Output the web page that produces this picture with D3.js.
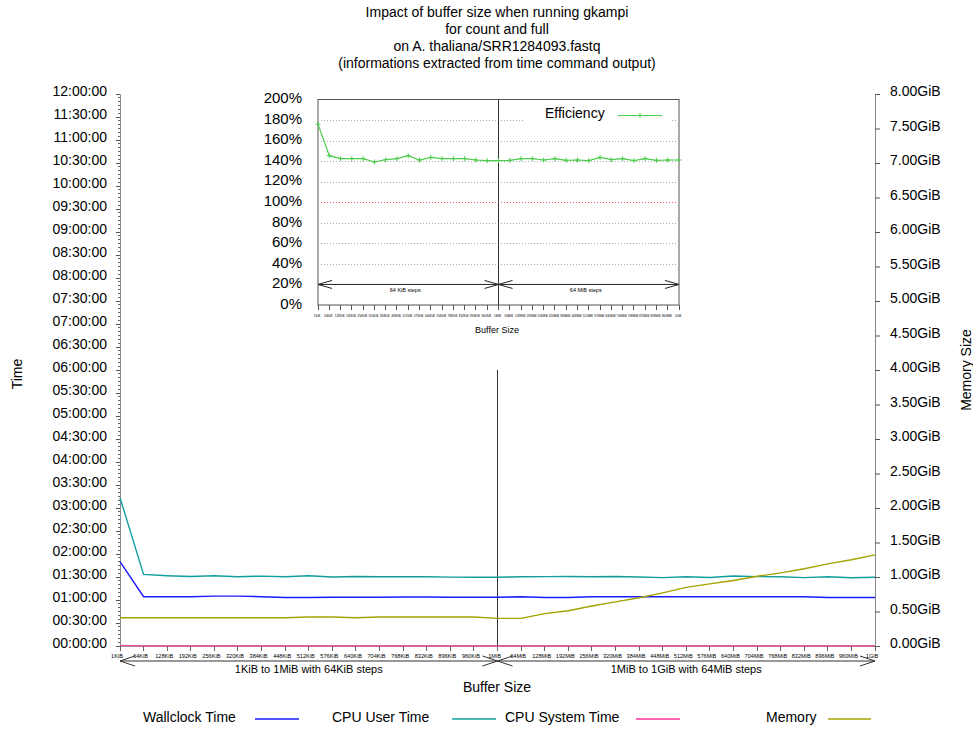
<!DOCTYPE html>
<html><head><meta charset="utf-8">
<script src="https://cdn.jsdelivr.net/npm/d3@7"></script>
<style>
body{margin:0;background:#fff}
svg{display:block}
text{font-family:"Liberation Sans",Arial,Helvetica,sans-serif;fill:#000}
</style>
</head><body>
<svg id="c" width="973" height="731"></svg>
<script>
// ---------------- DATA ----------------
const titleLines = [
  "Impact of buffer size when running gkampi",
  "for count and full",
  "on A. thaliana/SRR1284093.fastq",
  "(informations extracted from time command output)"
];
const bufferSizes = ["1KiB","64KiB","128KiB","192KiB","256KiB","320KiB","384KiB","448KiB","512KiB","576KiB","640KiB","704KiB","768KiB","832KiB","896KiB","960KiB",
  "1MiB","64MiB","128MiB","192MiB","256MiB","320MiB","384MiB","448MiB","512MiB","576MiB","640MiB","704MiB","768MiB","832MiB","896MiB","960MiB","1GiB"];
// seconds
const wallclockTime = [6600,3860,3860,3860,3900,3900,3860,3790,3800,3810,3820,3820,3830,3830,3820,3810,3810,
  3860,3790,3790,3860,3860,3860,3860,3860,3860,3860,3860,3860,3860,3790,3790,3790];
const cpuUserTime = [11600,5600,5500,5440,5500,5420,5470,5420,5500,5400,5440,5420,5420,5420,5390,5380,5380,
  5420,5430,5440,5420,5440,5400,5350,5420,5360,5480,5430,5420,5350,5420,5340,5380];
const cpuSystemTime = [50,5,5,5,5,5,5,5,5,5,5,5,5,5,5,5,5,
  5,5,5,5,5,5,5,5,5,5,5,5,5,5,5,5];
// GiB
const memory = [0.41,0.41,0.41,0.41,0.41,0.41,0.41,0.41,0.42,0.42,0.41,0.42,0.42,0.42,0.42,0.42,0.40,
  0.40,0.47,0.51,0.58,0.64,0.70,0.77,0.85,0.90,0.95,1.01,1.06,1.12,1.19,1.25,1.32];
// percent
const efficiency = [176,145.3,142.4,142.4,142.4,139.2,141.4,142.4,145.3,141.1,143.7,142.4,142.4,142.4,141.1,140.5,140.5,
  140.8,142.4,142.4,141.1,142.4,140.8,141.1,140.5,143.7,141.4,142.4,140.5,142.4,140.8,141.1,141.1];
const timeTickLabels = ["00:00:00","00:30:00","01:00:00","01:30:00","02:00:00","02:30:00","03:00:00","03:30:00","04:00:00","04:30:00","05:00:00","05:30:00","06:00:00","06:30:00","07:00:00","07:30:00","08:00:00","08:30:00","09:00:00","09:30:00","10:00:00","10:30:00","11:00:00","11:30:00","12:00:00"];
const memoryTickLabels = ["0.00GiB","0.50GiB","1.00GiB","1.50GiB","2.00GiB","2.50GiB","3.00GiB","3.50GiB","4.00GiB","4.50GiB","5.00GiB","5.50GiB","6.00GiB","6.50GiB","7.00GiB","7.50GiB","8.00GiB"];
const effTickLabels = ["0%","20%","40%","60%","80%","100%","120%","140%","160%","180%","200%"];
const rangeLabels = ["1KiB to 1MiB with 64KiB steps","1MiB to 1GiB with 64MiB steps"];
const insetRangeLabels = ["64 KiB steps","64 MiB steps"];
const seriesNames = ["Wallclock Time","CPU User Time","CPU System Time","Memory"];

// ---------------- DRAW ----------------
const svg = d3.select("#c");
const colors = {wall:"#1a1aff", user:"#129e9e", sys:"#ff3399", mem:"#a3a300", eff:"#4ccc4c"};

// title
svg.append("g").selectAll("text").data(titleLines).join("text")
  .attr("x",497).attr("y",(d,i)=>17+i*17).attr("text-anchor","middle")
  .style("font-size","14px").text(d=>d);

const x = d3.scalePoint().domain(bufferSizes).range([120,875]);
const yT = d3.scaleLinear().domain([0,43200]).range([646,94]);
const yM = d3.scaleLinear().domain([0,8]).range([646,94]);
const split = x("1MiB");

// left axis minor ticks
const minor = d3.range(0,43200+1,300);
svg.append("g").selectAll("line").data(minor).join("line")
  .attr("x1",118).attr("x2",120).attr("y1",d=>yT(d)).attr("y2",d=>yT(d))
  .attr("stroke","#666").attr("stroke-width",1).attr("shape-rendering","crispEdges");

const leftAxis = svg.append("g").attr("transform","translate(120,0)")
  .call(d3.axisLeft(yT).tickValues(timeTickLabels.map((d,i)=>i*1800)).tickFormat((d,i)=>timeTickLabels[i]).tickSize(4).tickPadding(9).tickSizeOuter(0));
leftAxis.selectAll("text").style("font-size","14px").attr("fill","#000").attr("dy","0.12em");
leftAxis.select(".domain").attr("stroke","#888");
leftAxis.selectAll(".tick line").attr("stroke","#555");

const rightAxis = svg.append("g").attr("transform","translate(875,0)")
  .call(d3.axisRight(yM).tickValues(memoryTickLabels.map((d,i)=>i*0.5)).tickFormat((d,i)=>memoryTickLabels[i]).tickSize(5).tickPadding(10).tickSizeOuter(0));
rightAxis.selectAll("text").style("font-size","14px").attr("fill","#000").attr("dy","0.12em");
rightAxis.select(".domain").attr("stroke","#888");
rightAxis.selectAll(".tick line").attr("stroke","#555");

// axis titles
svg.append("text").attr("transform","translate(22,374) rotate(-90)").attr("text-anchor","middle").style("font-size","14px").text("Time");
svg.append("text").attr("transform","translate(971,370) rotate(-90)").attr("text-anchor","middle").style("font-size","14px").text("Memory Size");
svg.append("text").attr("x",497).attr("y",692).attr("text-anchor","middle").style("font-size","14px").text("Buffer Size");

// bottom axis
const bAxis = svg.append("g");
bAxis.append("line").attr("x1",120).attr("x2",875).attr("y1",646).attr("y2",646).attr("stroke","#444");
bAxis.selectAll("line.t").data(bufferSizes).join("line").attr("class","t")
  .attr("x1",d=>x(d)).attr("x2",d=>x(d)).attr("y1",646).attr("y2",651).attr("stroke","#666").attr("shape-rendering","crispEdges");
bAxis.selectAll("text").data(bufferSizes).join("text")
  .attr("x",d=>x(d)-3).attr("y",658).attr("text-anchor","middle").style("font-size","5.6px").text(d=>d);

function arrows(g, x1, x2, y, len, spread, stroke){
  g.append("line").attr("x1",x1).attr("x2",x2).attr("y1",y).attr("y2",y).attr("stroke",stroke);
  const p = `M${x1+len},${y-spread}L${x1},${y}L${x1+len},${y+spread}M${x2-len},${y-spread}L${x2},${y}L${x2-len},${y+spread}`;
  g.append("path").attr("d",p).attr("fill","none").attr("stroke",stroke);
}
const arrG = svg.append("g");
arrows(arrG, 120, split, 661, 15, 5, "#333");
arrows(arrG, split, 875, 661, 15, 5, "#333");
arrG.append("text").attr("x",(120+split)/2).attr("y",673).attr("text-anchor","middle").style("font-size","11px").text(rangeLabels[0]);
arrG.append("text").attr("x",(split+875)/2).attr("y",673).attr("text-anchor","middle").style("font-size","11px").text(rangeLabels[1]);

// divider
svg.append("line").attr("x1",split).attr("x2",split).attr("y1",yT(21600)).attr("y2",646).attr("stroke","#333").attr("shape-rendering","crispEdges");

// series lines
const lineT = arr => d3.line().x((d,i)=>x(bufferSizes[i])).y(d=>yT(d))(arr);
const lineM = d3.line().x((d,i)=>x(bufferSizes[i])).y(d=>yM(d));
svg.append("path").attr("d",lineT(cpuUserTime)).attr("fill","none").attr("stroke",colors.user).attr("stroke-width",1.4);
svg.append("path").attr("d",lineT(wallclockTime)).attr("fill","none").attr("stroke",colors.wall).attr("stroke-width",1.4);
svg.append("path").attr("d",lineM(memory)).attr("fill","none").attr("stroke",colors.mem).attr("stroke-width",1.4);
svg.append("path").attr("d",lineT(cpuSystemTime)).attr("fill","none").attr("stroke",colors.sys).attr("stroke-width",1.4).attr("opacity",0.75);

// legend
const legendLayout = [
  {tx:143, lx1:255, lx2:299, c:colors.wall},
  {tx:332, lx1:452, lx2:496, c:colors.user},
  {tx:505, lx1:636, lx2:680, c:colors.sys},
  {tx:766, lx1:828, lx2:871, c:colors.mem}
];
const lg = svg.append("g");
seriesNames.forEach((n,i)=>{
  const L = legendLayout[i];
  lg.append("text").attr("x",L.tx).attr("y",722).style("font-size","14px").text(n);
  lg.append("line").attr("x1",L.lx1).attr("x2",L.lx2).attr("y1",719).attr("y2",719).attr("stroke",L.c).attr("stroke-width",1.4);
});

// ---------------- INSET ----------------
const xi = d3.scalePoint().domain(bufferSizes).range([318,679]);
const yi = d3.scaleLinear().domain([0,200]).range([305,99.5]);
const ins = svg.append("g");
ins.append("rect").attr("x",318).attr("y",yi(200)).attr("width",679-318).attr("height",yi(0)-yi(200)).attr("fill","#fff");
// grid
const gridVals = [40,60,80,100,120,140,160,180];
ins.selectAll("line.g").data(gridVals).join("line").attr("class","g")
  .attr("x1",321).attr("x2",677).attr("y1",d=>Math.round(yi(d))+0.5).attr("y2",d=>Math.round(yi(d))+0.5)
  .attr("stroke",d=>d===100?"#ff5555":"#aaa").attr("stroke-width",1).attr("stroke-dasharray","1,2");
// legend box
ins.append("rect").attr("x",523).attr("y",101).attr("width",147).attr("height",27).attr("fill","#fff");
// frame
ins.append("rect").attr("x",318).attr("y",yi(200)).attr("width",679-318).attr("height",yi(0)-yi(200))
  .attr("fill","none").attr("stroke","#555");
ins.append("line").attr("x1",xi("1MiB")).attr("x2",xi("1MiB")).attr("y1",yi(200)).attr("y2",yi(0)).attr("stroke","#333");
// y labels
ins.selectAll("text.y").data(effTickLabels).join("text").attr("class","y")
  .attr("x",302).attr("y",(d,i)=>yi(i*20)).attr("dy","0.25em").attr("text-anchor","end")
  .style("font-size","15px").text(d=>d);
// x ticks
ins.selectAll("line.xt").data(bufferSizes).join("line").attr("class","xt")
  .attr("x1",d=>xi(d)).attr("x2",d=>xi(d)).attr("y1",yi(0)).attr("y2",yi(0)+5).attr("stroke","#555").attr("shape-rendering","crispEdges");
ins.selectAll("text.xl").data(bufferSizes).join("text").attr("class","xl")
  .attr("x",d=>xi(d)-1).attr("y",317).attr("text-anchor","middle").style("font-size","3px").attr("fill","#333").text(d=>d);
ins.append("text").attr("x",497).attr("y",333).attr("text-anchor","middle").style("font-size","9px").attr("fill","#444").text("Buffer Size");
// arrows
const ia = ins.append("g");
const xs = xi("1MiB");
arrows(ia, 318, xs, yi(20), 14, 4, "#222");
arrows(ia, xs, 679, yi(20), 14, 4, "#222");
ia.append("text").attr("x",(318+xs)/2-3).attr("y",yi(20)+7.5).attr("text-anchor","middle").style("font-size","5.5px").text(insetRangeLabels[0]);
ia.append("text").attr("x",(xs+679)/2-3).attr("y",yi(20)+7.5).attr("text-anchor","middle").style("font-size","5.5px").text(insetRangeLabels[1]);
// efficiency line
ins.append("path").attr("d",d3.line().x((d,i)=>xi(bufferSizes[i])).y(d=>yi(d))(efficiency))
  .attr("fill","none").attr("stroke",colors.eff).attr("stroke-width",1.2);
ins.selectAll("path.m").data(efficiency).join("path").attr("class","m")
  .attr("d",(d,i)=>{const px=xi(bufferSizes[i]), py=yi(d); return `M${px-2.5},${py}H${px+2.5}M${px},${py-2.5}V${py+2.5}`;})
  .attr("stroke",colors.eff).attr("stroke-width",1);
// inset legend
ins.append("text").attr("x",545).attr("y",118).style("font-size","14px").text("Efficiency");
ins.append("line").attr("x1",618).attr("x2",662).attr("y1",115.5).attr("y2",115.5).attr("stroke",colors.eff).attr("stroke-width",1.2);
ins.append("path").attr("d","M637.5,115.5H642.5M640,113V118").attr("stroke",colors.eff);
</script>
</body></html>
